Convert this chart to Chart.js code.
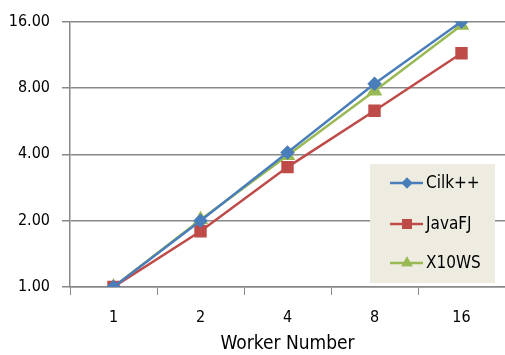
<!DOCTYPE html>
<html>
<head>
<meta charset="utf-8">
<script src="https://cdn.jsdelivr.net/npm/chart.js@4/dist/chart.umd.min.js"></script>
<style>
  html, body { margin: 0; padding: 0; background: #fff; }
  #chart { display: block; }
</style>
</head>
<body>
<canvas id="chart" width="505" height="355"></canvas>
<script>
// worker counts on the x axis
var workers = ["1", "2", "4", "8", "16"];
// speedups
var cilk = [1.0, 2.0, 4.08, 8.35, 16.0];
var javafj = [1.0, 1.79, 3.5, 6.3, 11.5];
var x10ws = [1.0, 2.02, 3.95, 7.75, 15.4];
var yTicks = [1, 2, 4, 8, 16];

var font = "'DejaVu Sans Condensed', sans-serif";

// legend box drawn inside the plot, like the original
var boxLegend = {
  id: "boxLegend",
  afterDraw: function(chart) {
    var ctx = chart.ctx;
    var x0 = 370, y0 = 164, w = 125, h = 119;
    ctx.save();
    ctx.fillStyle = "#EEECE1";
    ctx.fillRect(x0, y0, w, h);
    var rows = [183, 224, 263];
    chart.data.datasets.forEach(function(ds, i) {
      var y = rows[i];
      ctx.strokeStyle = ds.borderColor;
      ctx.lineWidth = 2.5;
      ctx.beginPath();
      ctx.moveTo(390, y);
      ctx.lineTo(423, y);
      ctx.stroke();
      ctx.fillStyle = ds.backgroundColor;
      Chart.helpers.drawPoint(ctx, {pointStyle: ds.pointStyle, radius: ds.pointRadius, rotation: 0, borderWidth: 0}, 407, y);
      ctx.fill();
      ctx.fillStyle = "#000";
      ctx.font = "17px " + font;
      ctx.textBaseline = "middle";
      ctx.fillText(ds.label, 426, y + 1);
    });
    ctx.restore();
  }
};

new Chart(document.getElementById("chart"), {
  type: "line",
  data: {
    labels: workers,
    datasets: [
      { label: "Cilk++", data: cilk, borderColor: "#4A7EBB", backgroundColor: "#4A7EBB",
        pointStyle: "rectRot", pointRadius: 5.5, borderWidth: 2.5 },
      { label: "JavaFJ", data: javafj, borderColor: "#BE4B48", backgroundColor: "#BE4B48",
        pointStyle: "rect", pointRadius: 7, borderWidth: 2.5 },
      { label: "X10WS", data: x10ws, borderColor: "#98B954", backgroundColor: "#98B954",
        pointStyle: "triangle", pointRadius: 6.5, borderWidth: 2.5 }
    ]
  },
  options: {
    responsive: false,
    animation: false,
    layout: { autoPadding: false, padding: { top: 20, right: 0, left: 0, bottom: 0 } },
    plugins: { legend: { display: false }, tooltip: { enabled: false } },
    elements: { line: { tension: 0 }, point: { borderWidth: 0 } },
    scales: {
      x: {
        offset: true,
        grid: { offset: true, drawOnChartArea: false, color: "#888", tickLength: 8 },
        border: { color: "#888", width: 1.5 },
        ticks: { color: "#000", font: { family: font, size: 16 }, padding: 13 },
        title: { display: true, text: "Worker Number", color: "#000",
                 font: { family: font, size: 19 }, padding: { top: 0, bottom: 0 } },
        afterFit: function(s) { s.height = 68; }
      },
      y: {
        type: "logarithmic",
        min: 1,
        max: 16,
        afterBuildTicks: function(s) {
          s.ticks = yTicks.map(function(v) { return { value: v }; });
        },
        grid: { color: "#888", lineWidth: 1.5, tickLength: 8 },
        border: { color: "#888", width: 1.5 },
        ticks: { color: "#000", font: { family: font, size: 16 }, padding: 12,
                 callback: function(v) { return Number(v).toFixed(2); } },
        afterFit: function(s) { s.width = 70; }
      }
    }
  },
  plugins: [boxLegend]
});
</script>
</body>
</html>
